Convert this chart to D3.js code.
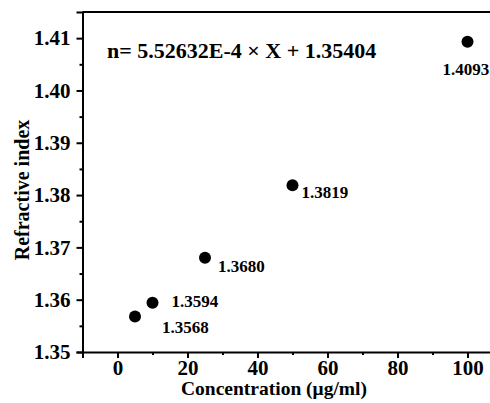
<!DOCTYPE html>
<html>
<head>
<meta charset="utf-8">
<script src="https://cdn.jsdelivr.net/npm/d3@7"></script>
<style>
  body { margin: 0; background: #fff; }
  text { font-family: "Liberation Serif", "Times New Roman", serif; font-weight: bold; fill: #000; }
</style>
</head>
<body>
<div id="chart"></div>
<script>
var concentration = [5, 10, 25, 50, 100]
var refractive = [1.3568, 1.3594, 1.3680, 1.3819, 1.4093]
var pointLabels = ['1.3568', '1.3594', '1.3680', '1.3819', '1.4093']
var xTicks = [0, 20, 40, 60, 80, 100]
var yTicks = [1.35, 1.36, 1.37, 1.38, 1.39, 1.40, 1.41]
var equation = 'n= 5.52632E-4 \u00d7 X + 1.35404'

// label offsets relative to each dot
var labelOffsets = [[27, 17], [19, 4], [13, 14], [9, 13], [-25, 33]]

var width = 490, height = 403

var svg = d3.select('#chart')
    .append('svg')
    .attr('width', width)
    .attr('height', height)

var x = d3.scaleLinear().domain([-10, 110]).range([82.5, 502.5])
var y = d3.scaleLinear().domain([1.35, 1.415]).range([352, 12])

// frame top line
svg.append('line')
    .attr('x1', x(-10)).attr('x2', x(110))
    .attr('y1', y(1.415)).attr('y2', y(1.415))
    .attr('stroke', '#000').attr('stroke-width', 2)

var xAxis = svg.append('g')
    .attr('transform', 'translate(0,' + y(1.35) + ')')
    .call(d3.axisBottom(x).tickValues(xTicks).tickSize(6).tickPadding(2).tickFormat(d3.format('d')))
xAxis.append('g')
    .call(d3.axisBottom(x).tickValues([-10, 10, 30, 50, 70, 90, 110]).tickSize(3).tickFormat(''))
    .select('.domain').remove()

var yAxis = svg.append('g')
    .attr('transform', 'translate(' + x(-10) + ',0)')
    .call(d3.axisLeft(y).tickValues(yTicks).tickSize(6).tickPadding(6).tickFormat(d3.format('.2f')))
yAxis.append('g')
    .call(d3.axisLeft(y).tickValues([1.355, 1.365, 1.375, 1.385, 1.395, 1.405]).tickSize(3).tickFormat(''))
    .select('.domain').remove()

svg.selectAll('.domain').attr('stroke-width', 2).attr('stroke', '#000')
svg.selectAll('.tick line').attr('stroke-width', 2).attr('stroke', '#000')
svg.selectAll('.tick text')
    .style('font-size', '21px')
    .style('font-family', '"Liberation Serif", serif')
    .style('font-weight', 'bold')

var data = concentration.map(function(c, i) {
    return { c: c, n: refractive[i], label: pointLabels[i], off: labelOffsets[i] }
})

svg.selectAll('circle.pt')
    .data(data)
    .enter()
    .append('circle')
    .attr('class', 'pt')
    .attr('cx', function(d) { return x(d.c) })
    .attr('cy', function(d) { return y(d.n) })
    .attr('r', 6)
    .attr('fill', '#000')

svg.selectAll('text.lbl')
    .data(data)
    .enter()
    .append('text')
    .attr('class', 'lbl')
    .attr('x', function(d) { return x(d.c) + d.off[0] })
    .attr('y', function(d) { return y(d.n) + d.off[1] })
    .style('font-size', '17px')
    .text(function(d) { return d.label })

svg.append('text')
    .attr('x', 107)
    .attr('y', 58)
    .style('font-size', '22px')
    .text(equation)

svg.append('text')
    .attr('x', 274)
    .attr('y', 395)
    .attr('text-anchor', 'middle')
    .style('font-size', '19.5px')
    .text('Concentration (\u03bcg/ml)')

svg.append('text')
    .attr('transform', 'translate(29,' + 190 + ') rotate(-90)')
    .attr('text-anchor', 'middle')
    .style('font-size', '20px')
    .text('Refractive index')
</script>
</body>
</html>
